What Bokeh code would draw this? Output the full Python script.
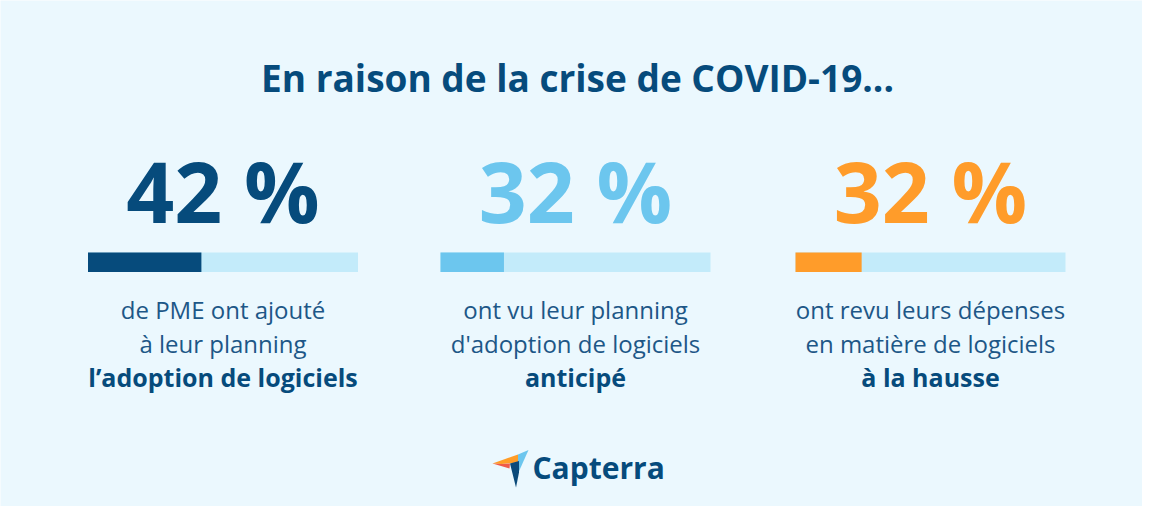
from bokeh.plotting import figure
from bokeh.models import Range1d
from bokeh.core.properties import value
from bokeh.embed import file_html
from bokeh.resources import INLINE

# ---- data ----
title = "En raison de la crise de COVID-19..."
percent = [42, 32, 32]                 # values shown as labels
bar_fill = [42, 23.5, 24.5]            # filled share of each track as drawn (%)
line1 = ["de PME ont ajouté", "ont vu leur planning", "ont revu leurs dépenses"]
line2 = ["à leur planning", "d'adoption de logiciels", "en matière de logiciels"]
line3 = ["l’adoption de logiciels", "anticipé", "à la hausse"]
brand = "Capterra"

# ---- styles ----
BG = "#EBF8FE"
NAVY = "#064B7C"
BODY = "#1D5787"
TRACK = "#C3EBFA"
colors = ["#064B7C", "#6CC6EE", "#FF9C2A"]
FONT = value("Open Sans")

W, H = 1142, 506
p = figure(width=W, height=H, output_backend="svg", toolbar_location=None,
           x_range=Range1d(0, W), y_range=Range1d(H, 0),
           min_border=0, background_fill_color=BG, border_fill_color=BG,
           outline_line_color=None)
p.axis.visible = False
p.grid.visible = False

# layout constants
centers = [222.5, 575.0, 930.0]
track_w = 270.0
bar_top, bar_bot = 252.0, 271.5

def mid(baseline, fs):
    # convert a text baseline to a "middle" anchor
    return baseline - 0.37 * fs

lefts = [c - track_w / 2 for c in centers]
rights = [l + track_w for l in lefts]
fill_r = [l + track_w * f / 100.0 for l, f in zip(lefts, bar_fill)]

# tracks
p.quad(left=lefts, right=rights, top=[bar_top] * 3, bottom=[bar_bot] * 3,
       fill_color=TRACK, line_color=None)
# fills
p.quad(left=lefts, right=fill_r, top=[bar_top] * 3, bottom=[bar_bot] * 3,
       fill_color=colors, line_color=None)

# title
p.text(x=[577], y=[mid(91, 37)], text=[title], text_font=FONT, text_font_style="bold",
       text_font_size="37px", text_color=NAVY, text_align="center",
       text_baseline="middle")

# big percentages
p.text(x=centers, y=[mid(221, 84)] * 3, text=[f"{v} %" for v in percent], text_font=FONT,
       text_font_style="bold", text_font_size="84px", text_color=colors,
       text_align="center", text_baseline="middle")

# body text
p.text(x=centers, y=[mid(318, 24)] * 3, text=line1, text_font=FONT, text_font_size="24px",
       text_color=BODY, text_align="center", text_baseline="middle")
p.text(x=centers, y=[mid(351.5, 24)] * 3, text=line2, text_font=FONT, text_font_size="24px",
       text_color=BODY, text_align="center", text_baseline="middle")
p.text(x=centers, y=[mid(385.5, 25)] * 3, text=line3, text_font=FONT, text_font_style="bold",
       text_font_size="25px", text_color=NAVY, text_align="center",
       text_baseline="middle")

# Capterra logo (icon + word)
ax, ay = 492.0, 448.0
def pts(lst):
    return [ax + a for a, b in lst], [ay + b for a, b in lst]
shapes = [
    ([(0, 15), (25.5, 6), (25.5, 14), (9, 15.5)], "#FF9D28"),
    ([(0, 15), (9, 15.5), (17.5, 15), (17, 20)], "#EF5A4A"),
    ([(25.5, 6), (36, 1.5), (25.5, 25), (25.5, 14)], "#6CC6EE"),
    ([(17.5, 15), (26.5, 12.5), (26.5, 24), (23.5, 39)], "#0B4A7A"),
]
xs = [pts(s)[0] for s, c in shapes]
ys = [pts(s)[1] for s, c in shapes]
p.patches(xs=xs, ys=ys, fill_color=[c for s, c in shapes], line_color=None)
p.text(x=[532], y=[mid(478, 30)], text=[brand], text_font=FONT, text_font_style="bold",
       text_font_size="30px", text_color=NAVY, text_align="left",
       text_baseline="middle")

open("out.html", "w").write(file_html(p, INLINE))
